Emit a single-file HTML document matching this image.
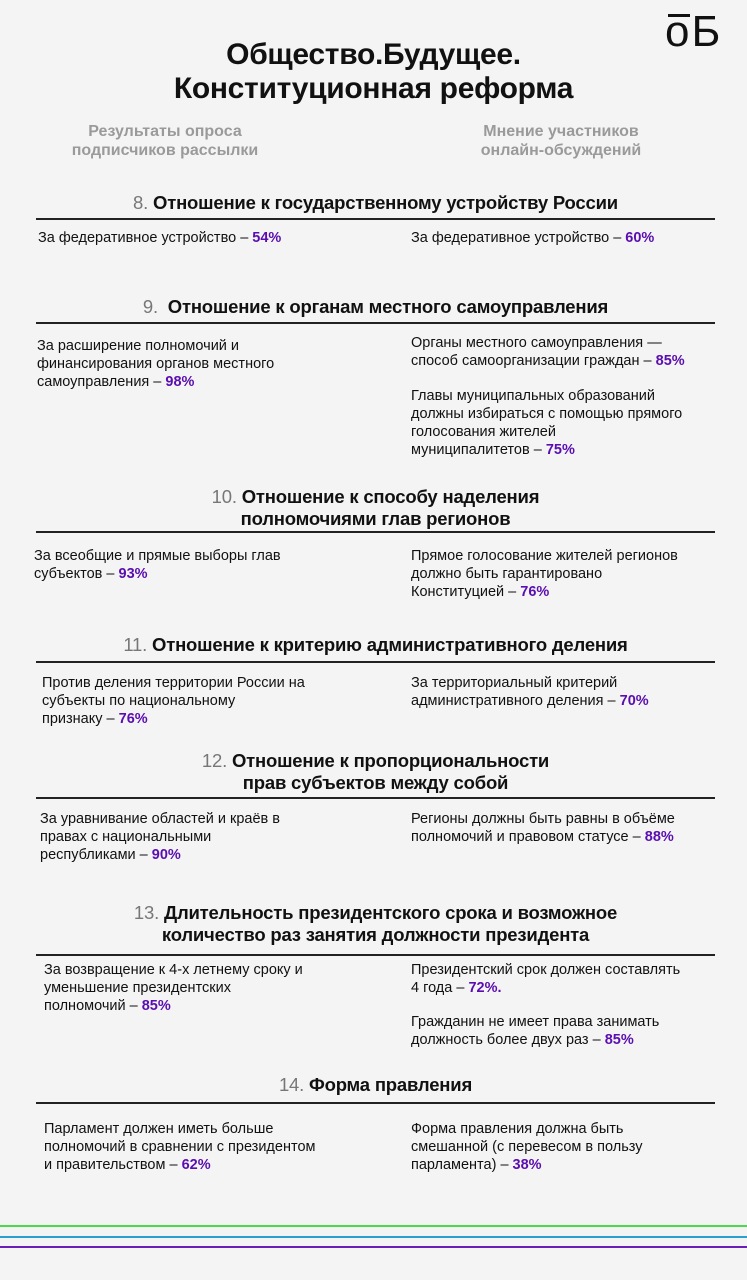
<!DOCTYPE html>
<html><head><meta charset="utf-8">
<style>
body{margin:0;width:747px;height:1280px;background:#f4f4f4;position:relative;overflow:hidden;font-family:"Liberation Sans","DejaVu Sans",sans-serif;color:#111}
.a{position:absolute}
.t{font-size:30px;font-weight:bold;line-height:34px;text-align:center;left:0;width:747px;top:38px;letter-spacing:-0.3px}
.s{font-size:16px;font-weight:bold;line-height:19px;text-align:center;color:#9a9a9a;width:300px;top:122px}
.h{font-size:18.5px;font-weight:bold;line-height:22px;text-align:center;left:36px;width:679px;letter-spacing:-0.2px;white-space:nowrap}
.h .n{font-weight:normal;color:#777}
.r{left:36px;width:679px;height:2px;background:#222}
.b{font-size:14.5px;line-height:18px;white-space:nowrap}
.p{color:#5a0eb0;font-weight:bold}
.ln{left:0;width:747px;height:2px}
</style></head><body>
<div class="a" style="left:668px;top:14px;width:22px;height:3px;background:#111"></div>
<div class="a" style="left:665px;top:10px;font-size:44px;line-height:44px;letter-spacing:2px">оБ</div>
<div class="a t">Общество.Будущее.<br>Конституционная реформа</div>
<div class="a s" style="left:15px">Результаты опроса<br>подписчиков рассылки</div>
<div class="a s" style="left:411px">Мнение участников<br>онлайн-обсуждений</div>

<div class="a h" style="top:192px"><span class="n">8.</span> Отношение к государственному устройству России</div>
<div class="a r" style="top:218px"></div>
<div class="a b" style="left:38px;top:229px">За федеративное устройство – <span class="p">54%</span></div>
<div class="a b" style="left:411px;top:229px">За федеративное устройство – <span class="p">60%</span></div>

<div class="a h" style="top:296px"><span class="n">9.</span>&nbsp; Отношение к органам местного самоуправления</div>
<div class="a r" style="top:322px"></div>
<div class="a b" style="left:37px;top:337px">За расширение полномочий и<br>финансирования органов местного<br>самоуправления – <span class="p">98%</span></div>
<div class="a b" style="left:411px;top:334px">Органы местного самоуправления —<br>способ самоорганизации граждан – <span class="p">85%</span></div>
<div class="a b" style="left:411px;top:387px">Главы муниципальных образований<br>должны избираться с помощью прямого<br>голосования жителей<br>муниципалитетов – <span class="p">75%</span></div>

<div class="a h" style="top:486px"><span class="n">10.</span> Отношение к способу наделения<br>полномочиями глав регионов</div>
<div class="a r" style="top:531px"></div>
<div class="a b" style="left:34px;top:547px">За всеобщие и прямые выборы глав<br>субъектов – <span class="p">93%</span></div>
<div class="a b" style="left:411px;top:547px">Прямое голосование жителей регионов<br>должно быть гарантировано<br>Конституцией – <span class="p">76%</span></div>

<div class="a h" style="top:634px"><span class="n">11.</span> Отношение к критерию административного деления</div>
<div class="a r" style="top:661px"></div>
<div class="a b" style="left:42px;top:674px">Против деления территории России на<br>субъекты по национальному<br>признаку – <span class="p">76%</span></div>
<div class="a b" style="left:411px;top:674px">За территориальный критерий<br>административного деления – <span class="p">70%</span></div>

<div class="a h" style="top:750px"><span class="n">12.</span> Отношение к пропорциональности<br>прав субъектов между собой</div>
<div class="a r" style="top:797px"></div>
<div class="a b" style="left:40px;top:810px">За уравнивание областей и краёв в<br>правах с национальными<br>республиками – <span class="p">90%</span></div>
<div class="a b" style="left:411px;top:810px">Регионы должны быть равны в объёме<br>полномочий и правовом статусе – <span class="p">88%</span></div>

<div class="a h" style="top:902px"><span class="n">13.</span> Длительность президентского срока и возможное<br>количество раз занятия должности президента</div>
<div class="a r" style="top:954px"></div>
<div class="a b" style="left:44px;top:961px">За возвращение к 4-х летнему сроку и<br>уменьшение президентских<br>полномочий – <span class="p">85%</span></div>
<div class="a b" style="left:411px;top:961px">Президентский срок должен составлять<br>4 года – <span class="p">72%.</span></div>
<div class="a b" style="left:411px;top:1013px">Гражданин не имеет права занимать<br>должность более двух раз – <span class="p">85%</span></div>

<div class="a h" style="top:1074px"><span class="n">14.</span> Форма правления</div>
<div class="a r" style="top:1102px"></div>
<div class="a b" style="left:44px;top:1120px">Парламент должен иметь больше<br>полномочий в сравнении с президентом<br>и правительством – <span class="p">62%</span></div>
<div class="a b" style="left:411px;top:1120px">Форма правления должна быть<br>смешанной (с перевесом в пользу<br>парламента) – <span class="p">38%</span></div>

<div class="a ln" style="top:1225px;background:#4cd94c"></div>
<div class="a ln" style="top:1236px;background:#2a9fd0"></div>
<div class="a ln" style="top:1246px;background:#6a1fb8"></div>
</body></html>
